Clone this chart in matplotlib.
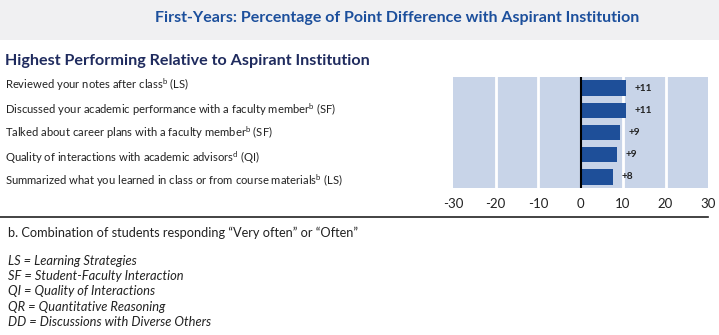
import matplotlib
matplotlib.use("Agg")
import matplotlib.pyplot as plt
from matplotlib.lines import Line2D
from matplotlib.patches import Rectangle

plt.rcParams['font.family'] = ['Lato', 'DejaVu Sans']
plt.rcParams['mathtext.fontset'] = 'custom'
plt.rcParams['mathtext.rm'] = 'Lato'
plt.rcParams['mathtext.it'] = 'Lato:italic'

# data
items = [
    "Reviewed your notes after class$^{\\mathrm{b}}$ (LS)",
    "Discussed your academic performance with a faculty member$^{\\mathrm{b}}$ (SF)",
    "Talked about career plans with a faculty member$^{\\mathrm{b}}$ (SF)",
    "Quality of interactions with academic advisors$^{\\mathrm{d}}$ (QI)",
    "Summarized what you learned in class or from course materials$^{\\mathrm{b}}$ (LS)",
]
diffs = [10.6, 10.6, 9.3, 8.6, 7.6]
xticks = [-30, -20, -10, 0, 10, 20, 30]
footnote = "b. Combination of students responding \u201cVery often\u201d or \u201cOften\u201d"
abbrevs = [
    "LS = Learning Strategies",
    "SF = Student-Faculty Interaction",
    "QI = Quality of Interactions",
    "QR = Quantitative Reasoning",
    "DD = Discussions with Diverse Others",
]

W, H = 719, 335
fig = plt.figure(figsize=(W / 100, H / 100), dpi=100, facecolor='white')

def fy(py):
    return 1 - py / H

# title band
fig.patches.append(Rectangle((0, fy(40)), 1, 40 / H, transform=fig.transFigure,
                             facecolor='#f0f0f2', edgecolor='none', zorder=0))
fig.text(397 / W, fy(18), "First-Years: Percentage of Point Difference with Aspirant Institution",
         ha='center', va='center', fontsize=11.5, fontweight='bold', color='#1c4f9c')

fig.text(5 / W, fy(61), "Highest Performing Relative to Aspirant Institution",
         ha='left', va='center', fontsize=11.6, fontweight='bold', color='#1f2b5e')

item_y = [85, 110, 133, 158, 181]
for txt, py in zip(items, item_y):
    fig.text(5 / W, fy(py), txt, ha='left', va='center', fontsize=8.1, color='#222222')

# bar chart
ax = fig.add_axes([453 / W, fy(188), 255 / W, 111 / H])
ax.set_facecolor('#c8d4e8')
ypos = list(range(len(diffs)))
ax.barh(ypos, diffs, height=0.7, color='#1e4f99', zorder=3)
for y, v in zip(ypos, diffs):
    ax.text(v + 2.1, y, "+{:.0f}".format(v), ha='left', va='center',
            fontsize=7.3, fontweight='bold', color='#222222', zorder=4)
for gx in xticks[1:-1]:
    if gx != 0:
        ax.axvline(gx, color='white', lw=2, zorder=1)
ax.axvline(0, color='black', lw=1.5, zorder=4)
ax.set_xlim(-30, 30)
ax.set_ylim(len(diffs) - 0.5, -0.5)
ax.set_xticks(xticks)
ax.set_xticklabels([str(t) for t in xticks])
ax.set_yticks([])
ax.tick_params(axis='x', length=0, pad=7, labelsize=9.5, labelcolor='#222222')
for s in ax.spines.values():
    s.set_visible(False)

# separator rule
fig.add_artist(Line2D([0, 708 / W], [fy(217), fy(217)], color='#222222', lw=1.2,
                      transform=fig.transFigure))

fig.text(8 / W, fy(233), footnote, ha='left', va='center', fontsize=9.2, color='#222222')
for i, line in enumerate(abbrevs):
    fig.text(8 / W, fy(261 + i * 15.2), line, ha='left', va='center', fontsize=9.3,
             style='italic', color='#222222')

fig.savefig('out.png', dpi=100)
